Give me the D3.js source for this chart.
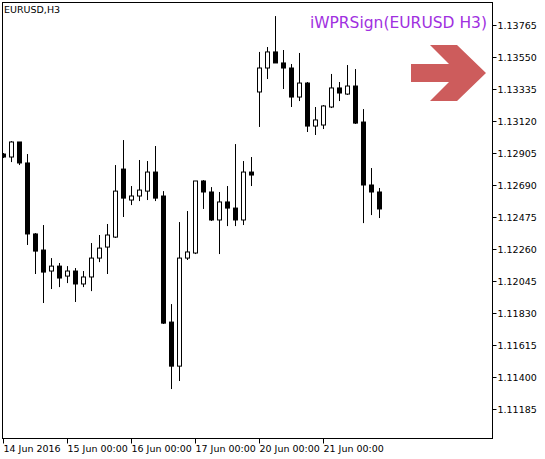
<!DOCTYPE html>
<html><head><meta charset="utf-8">
<script src="https://cdn.jsdelivr.net/npm/d3@7/dist/d3.min.js"></script>
<style>body{margin:0;background:#fff}svg{display:block}text{font-family:"DejaVu Sans",Tahoma,sans-serif}</style>
</head><body><svg id="c" width="545" height="459"></svg>
<script>
const opens  = [1.12898,1.12878,1.12979,1.12838,1.12361,1.12253,1.12112,1.12145,1.12078,1.12112,1.12025,1.12072,1.12199,1.12273,1.12340,1.12797,1.12589,1.12616,1.12649,1.12777,1.12616,1.11769,1.11473,1.12199,1.12233,1.12717,1.12643,1.12455,1.12576,1.12535,1.12455,1.12777,1.13315,1.13476,1.13584,1.13510,1.13476,1.13281,1.13375,1.13086,1.13093,1.13214,1.13342,1.13301,1.13355,1.13113,1.12690,1.12643];
const highs  = [1.12905,1.12985,1.12979,1.12898,1.12367,1.12421,1.12199,1.12166,1.12145,1.12132,1.12112,1.12300,1.12354,1.12428,1.12824,1.12992,1.12683,1.12858,1.12851,1.12952,1.12649,1.11890,1.12441,1.12515,1.12717,1.12723,1.12676,1.12643,1.12683,1.12965,1.12851,1.12878,1.13584,1.13617,1.13825,1.13597,1.13503,1.13577,1.13382,1.13214,1.13227,1.13436,1.13382,1.13496,1.13469,1.13200,1.12804,1.12670];
const lows   = [1.12871,1.12844,1.12824,1.12287,1.12092,1.11897,1.11991,1.12004,1.12031,1.11904,1.12004,1.11977,1.12172,1.12092,1.12334,1.12475,1.12555,1.12582,1.12589,1.12582,1.11756,1.11319,1.11373,1.12186,1.12226,1.12529,1.12448,1.12226,1.12414,1.12414,1.12421,1.12683,1.13080,1.13402,1.13510,1.13335,1.13214,1.13254,1.13046,1.13026,1.13066,1.13207,1.13254,1.13295,1.13100,1.12434,1.12488,1.12468];
const closes = [1.12878,1.12979,1.12838,1.12361,1.12246,1.12105,1.12145,1.12065,1.12112,1.12025,1.12072,1.12199,1.12266,1.12354,1.12649,1.12602,1.12616,1.12656,1.12777,1.12602,1.11762,1.11473,1.12199,1.12240,1.12717,1.12643,1.12455,1.12576,1.12535,1.12455,1.12777,1.12757,1.13476,1.13584,1.13510,1.13476,1.13281,1.13375,1.13086,1.13127,1.13221,1.13342,1.13308,1.13355,1.13106,1.12690,1.12643,1.12529];
const priceTicks = [1.13765,1.13550,1.13335,1.13120,1.12905,1.12690,1.12475,1.12260,1.12045,1.11830,1.11615,1.11400,1.11185];
const dateTickIdx = [0,8,16,24,32,40];
const dateTickLabels = ["14 Jun 2016","15 Jun 00:00","16 Jun 00:00","17 Jun 00:00","20 Jun 00:00","21 Jun 00:00"];

const L=2.5,R=492.5,T=2.5,B=438.5;
const svg=d3.select("#c");
const x=d3.scaleLinear().domain([0,1]).range([2.5,10.5]);
const y=d3.scaleLinear().domain([1.13765,1.11185]).range([25,409]);
svg.append("defs").append("clipPath").attr("id","cl").append("rect").attr("x",L).attr("y",T).attr("width",R-L).attr("height",B-T);
const g=svg.append("g").attr("clip-path","url(#cl)");
const data=opens.map((o,i)=>({i,o,h:highs[i],l:lows[i],c:closes[i]}));
g.selectAll("line.w").data(data).join("line")
 .attr("x1",d=>Math.round(x(d.i))+0.5).attr("x2",d=>Math.round(x(d.i))+0.5)
 .attr("y1",d=>y(d.h)).attr("y2",d=>y(d.l)).attr("stroke","#000").attr("stroke-width",1);
g.selectAll("rect.b").data(data).join("rect")
 .attr("x",d=>Math.round(x(d.i))-1.5).attr("width",4)
 .attr("y",d=>y(Math.max(d.o,d.c))).attr("height",d=>Math.max(1,Math.abs(y(d.o)-y(d.c))))
 .attr("fill",d=>d.c<d.o?"#000":"#fff").attr("stroke","#000").attr("stroke-width",1);
svg.append("rect").attr("x",L).attr("y",T).attr("width",R-L).attr("height",B-T).attr("fill","none").attr("stroke","#000");
const ya=svg.append("g");
priceTicks.forEach(p=>{const yy=Math.round(y(p))+0.5;
 ya.append("line").attr("x1",R).attr("x2",R+4).attr("y1",yy).attr("y2",yy).attr("stroke","#000");
 ya.append("text").attr("x",R+5).attr("y",yy+3.5).attr("font-size",9.5).text(p.toFixed(5));});
dateTickIdx.forEach((idx,k)=>{const xx=Math.round(x(idx))+0.5;
 svg.append("line").attr("x1",xx).attr("x2",xx).attr("y1",B).attr("y2",B+5).attr("stroke","#000");
 svg.append("text").attr("x",xx).attr("y",452).attr("font-size",9.5).text(dateTickLabels[k]);});
svg.append("text").attr("x",4).attr("y",13).attr("font-size",9.5).text("EURUSD,H3");
svg.append("text").attr("x",487).attr("y",28).attr("text-anchor","end").attr("font-family","Liberation Serif").attr("font-size",15.5).attr("fill","#a030e0").text("iWPRSign(EURUSD H3)");
svg.append("polygon").attr("points","411,64 449,64 430,45 457,45 486,73 457,101 430,101 449,82 411,82").attr("fill","#cd5c5c");
</script></body></html>
